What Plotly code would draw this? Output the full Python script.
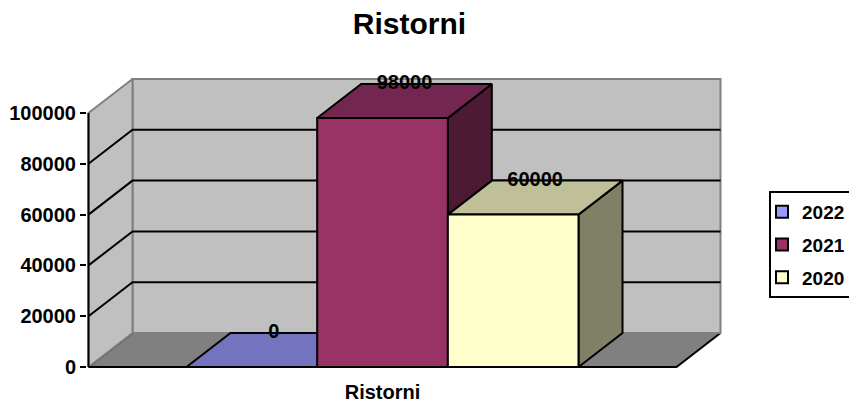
import plotly.graph_objects as go

# ---------------- data ----------------
chart_title = "Ristorni"
categories = ["Ristorni"]
series_names = ["2022", "2021", "2020"]
series_values = [0, 98000, 60000]
y_tick_values = [0, 20000, 40000, 60000, 80000, 100000]

# ---------------- style ----------------
front_colors = ["#9999FF", "#993366", "#FFFFCC"]
top_colors = ["#7373BF", "#732650", "#BFBF99"]
side_colors = ["#4D4D80", "#4D1A33", "#808066"]
FONT = "Liberation Sans, Arial, sans-serif"

W, H = 849, 403
# pixel geometry of the plot frame
x0_px = 88.5          # pixel of x = 0 (front-left corner)
y0_px = 367.0         # pixel of value 0
px_per_unit_x = 130.67
px_per_unit_y = 254.0 / 100000
depth_px_x, depth_px_y = 44.0, 34.0
plot_l, plot_r, plot_t, plot_b = 87, 723, 77, 369

DX = depth_px_x / px_per_unit_x
DY = depth_px_y / px_per_unit_y
gap = 0.75                       # gap width 150% -> 0.75 on each side
n = len(series_names)
floor_w = n + 2 * gap
y_max = y_tick_values[-1]

x_range = [-(x0_px - plot_l) / px_per_unit_x, (plot_r - x0_px) / px_per_unit_x]
y_range = [-(plot_b - y0_px) / px_per_unit_y, (y0_px - plot_t) / px_per_unit_y]

fig = go.Figure()

def poly(xs, ys, fill, line_color, lw=1.5):
    fig.add_trace(go.Scatter(x=xs + [xs[0]], y=ys + [ys[0]], mode="lines",
                             fill="toself", fillcolor=fill,
                             line=dict(color=line_color, width=lw),
                             hoverinfo="skip", showlegend=False))

# floor
poly([0, floor_w, floor_w + DX, DX], [0, 0, DY, DY], "#808080", "#000000", 2)
# back wall
poly([DX, floor_w + DX, floor_w + DX, DX], [DY, DY, y_max + DY, y_max + DY], "#C0C0C0", "#808080", 2)
# side wall
poly([0, DX, DX, 0], [0, DY, y_max + DY, y_max], "#C0C0C0", "#808080", 2)

# gridlines
gx, gy = [], []
for v in y_tick_values[1:-1]:
    gx += [0, DX, floor_w + DX, None]
    gy += [v, v + DY, v + DY, None]
fig.add_trace(go.Scatter(x=gx, y=gy, mode="lines", line=dict(color="#000000", width=2),
                         hoverinfo="skip", showlegend=False))

# axis lines
fig.add_trace(go.Scatter(x=[0, 0, None, 0, floor_w], y=[0, y_max, None, 0, 0], mode="lines",
                         line=dict(color="#000000", width=2), hoverinfo="skip", showlegend=False))

# bars (side, top, front faces)
for i, (name, v) in enumerate(zip(series_names, series_values)):
    xl = gap + i
    xr = xl + 1
    poly([xr, xr + DX, xr + DX, xr], [0, DY, v + DY, v], side_colors[i], "#000000", 2)
    poly([xl, xr, xr + DX, xl + DX], [v, v, v + DY, v + DY], top_colors[i], "#000000", 2)
    poly([xl, xr, xr, xl], [0, 0, v, v], front_colors[i], "#000000", 2)

# data labels
fig.add_trace(go.Scatter(
    x=[gap + i + 0.5 + DX / 2 for i in range(n)],
    y=[v + DY for v in series_values],
    mode="text", text=[str(v) for v in series_values],
    textposition="middle center",
    textfont=dict(family=FONT, size=20, color="#000000", weight="bold"),
    cliponaxis=False, hoverinfo="skip", showlegend=False))

# legend entries
for i, name in enumerate(series_names):
    fig.add_trace(go.Scatter(x=[None], y=[None], mode="markers", name=name,
                             legendgroup=name,
                             marker=dict(symbol="square", size=12, color=front_colors[i],
                                         line=dict(color="#000000", width=2))))

# legend frame (pixels -> paper)
plot_w, plot_h = plot_r - plot_l, plot_b - plot_t
def px_to_paper_x(px):
    return (px - plot_l) / plot_w
def px_to_paper_y(py):
    return (plot_b - py) / plot_h

fig.add_shape(type="rect", xref="paper", yref="paper",
              x0=px_to_paper_x(770), x1=px_to_paper_x(852),
              y0=px_to_paper_y(297), y1=px_to_paper_y(192),
              line=dict(color="#000000", width=2), fillcolor="#FFFFFF", layer="below")

fig.update_layout(
    width=W, height=H,
    margin=dict(l=plot_l, r=W - plot_r, t=plot_t, b=H - plot_b, pad=0, autoexpand=False),
    paper_bgcolor="#FFFFFF", plot_bgcolor="rgba(0,0,0,0)",
    font=dict(family=FONT, color="#000000"),
    title=dict(text=chart_title, x=409.5 / W, xanchor="center", xref="container",
               y=1 - 23 / H, yanchor="middle", yref="container",
               font=dict(family=FONT, size=30, color="#000000", weight="bold")),
    xaxis=dict(range=x_range, showgrid=False, zeroline=False, showline=False,
               tickvals=[floor_w / 2], ticktext=categories, ticks="",
               ticklabelstandoff=9, automargin=False,
               tickfont=dict(family=FONT, size=20, weight="bold")),
    yaxis=dict(range=y_range, showgrid=False, zeroline=False, showline=False,
               tickvals=y_tick_values, tickformat="d", automargin=False,
               ticks="outside", ticklen=6, tickwidth=2, tickcolor="#000000",
               tickfont=dict(family=FONT, size=20, weight="bold")),
    legend=dict(x=762 / W, xanchor="left", xref="container",
                y=1 - 193 / H, yanchor="top", yref="container",
                borderwidth=0, bgcolor="rgba(0,0,0,0)",
                itemwidth=30,
                traceorder="grouped", tracegroupgap=5,
                font=dict(family=FONT, size=19, weight="bold")),
    showlegend=True,
)

fig.write_html("out.html", config={"displayModeBar": False},
               post_script="document.body.style.margin='0px';")
